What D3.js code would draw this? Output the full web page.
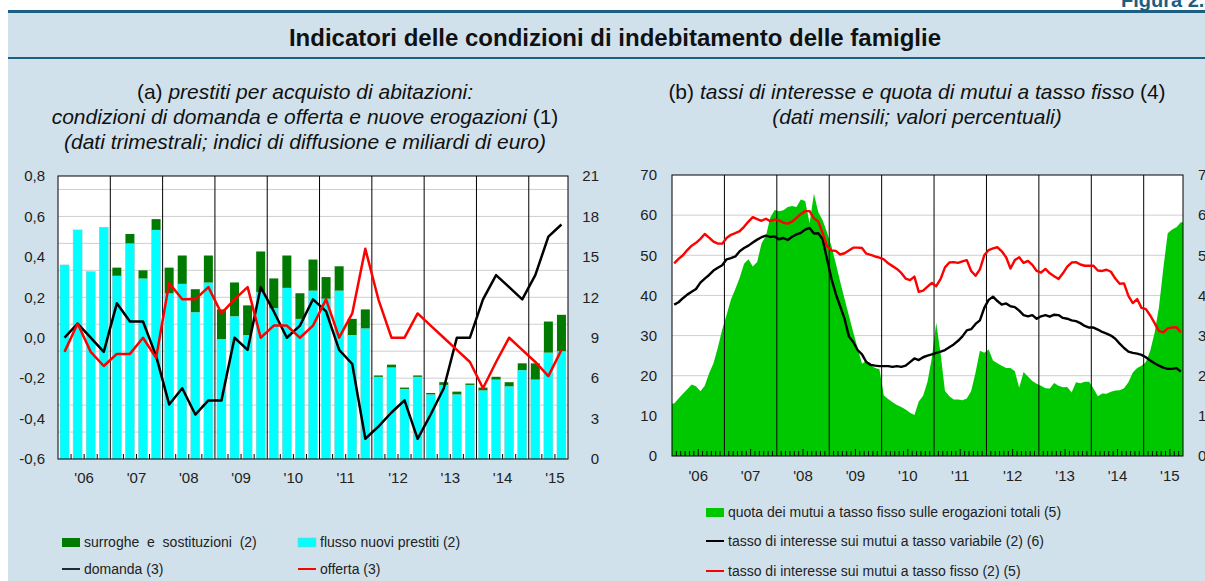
<!DOCTYPE html>
<html>
<head>
<meta charset="utf-8">
<script src="https://cdn.jsdelivr.net/npm/d3@7"></script>
<style>
body { margin: 0; background: #fff; }
svg { display: block; font-family: "Liberation Sans", Arial, Helvetica, sans-serif; }
</style>
</head>
<body>
<script>
// ---- data -------------------------------------------------------------

const years = ["'06", "'07", "'08", "'09", "'10", "'11", "'12", "'13", "'14", "'15"]

// (a) quarterly, 2006 Q1 - 2015 Q3
// flusso nuovi prestiti (miliardi di euro)
const flussoNuovi = [14.4, 17.0, 13.9, 17.2, 13.6, 16.0, 13.4, 17.0,
  12.3, 13.0, 10.9, 13.1, 8.9, 10.6, 9.2, 12.4,
  11.2, 12.7, 10.4, 12.5, 11.9, 12.5, 9.2, 9.7,
  6.1, 6.8, 5.2, 6.1, 4.8, 5.5, 4.8, 5.5,
  5.1, 5.9, 5.4, 6.6, 5.9, 7.9, 8.0]
// surroghe e sostituzioni (miliardi di euro)
const surroghe = [0, 0, 0, 0, 0.6, 0.7, 0.6, 0.8,
  1.9, 2.1, 1.7, 2.0, 2.2, 2.5, 2.2, 3.0,
  2.2, 2.4, 1.9, 2.3, 1.6, 1.8, 1.2, 1.4,
  0.1, 0.2, 0.1, 0.1, 0.1, 0.2, 0.2, 0.1,
  0.2, 0.2, 0.3, 0.5, 1.2, 2.3, 2.7]
// indici di diffusione
const domanda = [0.0, 0.07, 0.0, -0.07, 0.17, 0.08, 0.08, -0.09,
  -0.33, -0.25, -0.38, -0.31, -0.31, 0.0, -0.06, 0.25,
  0.13, 0.0, 0.06, 0.19, 0.13, -0.06, -0.13, -0.5,
  -0.44, -0.37, -0.31, -0.5, -0.38, -0.25, 0.0, 0.0,
  0.19, 0.31, 0.25, 0.19, 0.31, 0.5, 0.56]
const offerta = [-0.07, 0.07, -0.07, -0.14, -0.08, -0.08, 0.0, -0.1,
  0.27, 0.19, 0.19, 0.25, 0.12, 0.19, 0.25, 0.0,
  0.06, 0.06, 0.0, 0.06, 0.19, 0.0, 0.12, 0.44,
  0.19, 0.0, 0.0, 0.12, 0.06, 0.0, -0.06, -0.12,
  -0.25, -0.12, 0.0, -0.06, -0.12, -0.19, -0.06]

// (b) monthly, Jan 2006 - Sep 2015
// quota dei mutui a tasso fisso (percent)
const quotaFisso = [
  13.1, 14.3, 15.5, 16.6, 17.8, 17.4, 16.1, 17.5, 20.6, 23.1, 27.0, 31.5,
  35.2, 39.0, 41.6, 44.4, 47.9, 49.0, 47.2, 48.3, 53.0, 54.8, 59.4, 61.3,
  61.0, 61.2, 62.0, 62.3, 62.0, 63.9, 63.5, 58.0, 65.3, 60.7, 58.7, 55.7,
  52.3, 48.0, 43.5, 39.2, 35.0, 30.8, 26.9, 23.0, 23.7, 22.6, 21.9, 21.6,
  15.1, 14.2, 13.4, 12.7, 12.2, 11.6, 10.8, 10.2, 13.6, 15.0, 18.5, 24.5,
  33.2, 25.5, 16.2, 14.9, 14.1, 14.1, 13.9, 14.3, 16.2, 20.8, 26.2, 25.7,
  26.5, 23.8, 23.1, 22.5, 21.9, 21.9, 21.1, 17.0, 20.9, 19.8, 18.7, 18.0,
  17.5, 16.9, 16.8, 18.2, 17.5, 17.1, 17.2, 15.8, 18.4, 18.1, 18.5, 18.5,
  16.8, 14.9, 15.6, 15.5, 16.0, 16.3, 16.4, 16.9, 18.4, 20.8, 21.9, 22.5,
  23.4, 26.2, 30.7, 37.1, 46.8, 55.5, 56.4, 57.0, 58.2]
// tasso di interesse sui mutui a tasso variabile (percent)
const tassoVariabile = [
  3.77, 3.83, 3.93, 4.02, 4.09, 4.16, 4.32, 4.42, 4.51, 4.62, 4.69, 4.75,
  4.90, 4.93, 4.97, 5.10, 5.18, 5.24, 5.32, 5.39, 5.45, 5.49, 5.46, 5.47,
  5.40, 5.43, 5.38, 5.46, 5.52, 5.56, 5.64, 5.68, 5.54, 5.55, 5.40, 4.90,
  4.42, 4.04, 3.73, 3.42, 2.98, 2.84, 2.64, 2.53, 2.34, 2.27, 2.25, 2.24,
  2.24, 2.24, 2.22, 2.24, 2.22, 2.25, 2.34, 2.43, 2.39, 2.46, 2.50, 2.53,
  2.57, 2.60, 2.64, 2.71, 2.78, 2.87, 2.98, 3.13, 3.16, 3.29, 3.38, 3.69,
  3.89, 3.97, 3.86, 3.77, 3.80, 3.73, 3.71, 3.62, 3.51, 3.48, 3.51, 3.42,
  3.48, 3.51, 3.47, 3.52, 3.51, 3.44, 3.42, 3.38, 3.36, 3.31, 3.24, 3.20,
  3.20, 3.15, 3.09, 3.05, 3.00, 2.92, 2.80, 2.69, 2.60, 2.57, 2.55, 2.52,
  2.46, 2.38, 2.31, 2.25, 2.20, 2.17, 2.17, 2.19, 2.10]
// tasso di interesse sui mutui a tasso fisso (percent)
const tassoFisso = [
  4.80, 4.91, 5.00, 5.13, 5.24, 5.31, 5.41, 5.53, 5.44, 5.34, 5.29, 5.29,
  5.43, 5.51, 5.55, 5.60, 5.71, 5.84, 5.95, 5.90, 5.86, 5.91, 5.85, 5.89,
  5.87, 5.81, 5.79, 5.84, 5.93, 6.03, 6.10, 6.10, 5.92, 5.84, 5.55, 5.23,
  5.12, 5.11, 5.02, 5.05, 5.12, 5.19, 5.19, 5.18, 5.04, 5.01, 4.97, 4.94,
  4.90, 4.80, 4.73, 4.66, 4.56, 4.42, 4.38, 4.47, 4.09, 4.12, 4.22, 4.31,
  4.23, 4.41, 4.70, 4.82, 4.83, 4.81, 4.85, 4.88, 4.61, 4.49, 4.65, 5.00,
  5.13, 5.17, 5.20, 5.10, 4.95, 4.67, 4.88, 4.95, 4.81, 4.86, 4.76, 4.61,
  4.57, 4.66, 4.55, 4.48, 4.41, 4.55, 4.72, 4.82, 4.83, 4.77, 4.74, 4.74,
  4.74, 4.62, 4.61, 4.64, 4.59, 4.42, 4.29, 4.30, 3.99, 3.81, 3.91, 3.69,
  3.66, 3.50, 3.31, 3.11, 3.08, 3.18, 3.20, 3.21, 3.08]

// ---- page -------------------------------------------------------------

const width = 1205
const height = 581
const panelBg = "#d0e1ec"
const rule = "#1b6082"
const fmt = v => d3.format(".1f")(v).replace("−", "-").replace(".", ",")

const svg = d3.select("body")
  .append("svg")
  .attr("width", width)
  .attr("height", height)

svg.append("rect")
  .attr("x", 8).attr("y", 12)
  .attr("width", width - 8).attr("height", height - 12)
  .attr("fill", panelBg)

// figure label, cut by the top edge as in the page it came from
svg.append("text")
  .attr("x", 1121).attr("y", 7)
  .attr("fill", rule)
  .attr("font-weight", "bold")
  .attr("font-size", 20)
  .text("Figura 2.5")

svg.append("line")
  .attr("x1", 8).attr("x2", width)
  .attr("y1", 11.5).attr("y2", 11.5)
  .attr("stroke", rule).attr("stroke-width", 3)
svg.append("line")
  .attr("x1", 8).attr("x2", width)
  .attr("y1", 58).attr("y2", 58)
  .attr("stroke", rule).attr("stroke-width", 2)

svg.append("text")
  .attr("x", 615).attr("y", 46)
  .attr("text-anchor", "middle")
  .attr("font-weight", "bold")
  .attr("font-size", 24)
  .attr("fill", "#111")
  .text("Indicatori delle condizioni di indebitamento delle famiglie")

// subtitle lines: each is a list of [text, italic]
function subtitle (cx, y, parts) {
  let t = svg.append("text")
    .attr("x", cx).attr("y", y)
    .attr("text-anchor", "middle")
    .attr("font-size", 21)
    .attr("fill", "#111")
    .attr("xml:space", "preserve")
  for (let [s, it] of parts) {
    t.append("tspan").attr("font-style", it ? "italic" : "normal").text(s)
  }
}

subtitle(305, 99, [["(a) ", false], ["prestiti per acquisto di abitazioni:", true]])
subtitle(305, 124, [["condizioni di domanda e offerta e nuove erogazioni", true], [" (1)", false]])
subtitle(305, 149, [["(dati trimestrali; indici di diffusione e miliardi di euro)", true]])
subtitle(917, 99, [["(b) ", false], ["tassi di interesse e quota di mutui a tasso fisso", true], [" (4)", false]])
subtitle(917, 124, [["(dati mensili; valori percentuali)", true]])

// ---- (a) quarterly chart ----------------------------------------------

const nQ = flussoNuovi.length
const pa = {left: 58, right: 568, top: 176, bottom: 459}
const xa = d3.scaleLinear().domain([0, nQ]).range([pa.left, pa.right])
const yaL = d3.scaleLinear().domain([-0.6, 0.8]).range([pa.bottom, pa.top])
const yaR = d3.scaleLinear().domain([0, 21]).range([pa.bottom, pa.top])
const ga = svg.append("g")

ga.append("rect")
  .attr("x", pa.left).attr("y", pa.top)
  .attr("width", pa.right - pa.left).attr("height", pa.bottom - pa.top)
  .attr("fill", "#fff")

ga.append("g").selectAll("line")
  .data(yaR.ticks(7).filter(d => d > 0 && d < 21))
  .join("line")
    .attr("x1", pa.left).attr("x2", pa.right)
    .attr("y1", d => yaR(d)).attr("y2", d => yaR(d))
    .attr("stroke", "#cfcfcf").attr("stroke-width", 1)

const bw = 9
ga.append("g").selectAll("rect")
  .data(flussoNuovi)
  .join("rect")
    .attr("x", (d, i) => xa(i + 0.5) - bw / 2)
    .attr("y", d => yaR(d))
    .attr("width", bw)
    .attr("height", d => yaR(0) - yaR(d))
    .attr("fill", "#00ffff")
    .attr("stroke", "#8fc8c8").attr("stroke-width", 0.5)

ga.append("g").selectAll("rect")
  .data(surroghe)
  .join("rect")
    .attr("x", (d, i) => xa(i + 0.5) - bw / 2)
    .attr("y", (d, i) => yaR(flussoNuovi[i] + d))
    .attr("width", bw)
    .attr("height", (d, i) => yaR(flussoNuovi[i]) - yaR(flussoNuovi[i] + d))
    .attr("fill", "#007a00")

// year separators and quarter ticks
ga.append("g").selectAll("line")
  .data(d3.range(4, nQ, 4))
  .join("line")
    .attr("x1", d => xa(d)).attr("x2", d => xa(d))
    .attr("y1", pa.top).attr("y2", pa.bottom)
    .attr("stroke", "#000").attr("stroke-width", 1)
ga.append("g").selectAll("line")
  .data(d3.range(1, nQ).filter(d => d % 4 !== 0))
  .join("line")
    .attr("x1", d => xa(d)).attr("x2", d => xa(d))
    .attr("y1", pa.bottom).attr("y2", pa.bottom - 5)
    .attr("stroke", "#000").attr("stroke-width", 1)

const qLine = d3.line().x((d, i) => xa(i + 0.5)).y(d => yaL(d))
ga.append("path").datum(domanda)
  .attr("d", qLine)
  .attr("fill", "none").attr("stroke", "#000").attr("stroke-width", 2.5)
  .attr("stroke-linejoin", "round")
ga.append("path").datum(offerta)
  .attr("d", qLine)
  .attr("fill", "none").attr("stroke", "#ff0000").attr("stroke-width", 2.5)
  .attr("stroke-linejoin", "round")

ga.append("rect")
  .attr("x", pa.left).attr("y", pa.top)
  .attr("width", pa.right - pa.left).attr("height", pa.bottom - pa.top)
  .attr("fill", "none").attr("stroke", "#000").attr("stroke-width", 1)

ga.append("g").selectAll("text")
  .data(d3.range(-0.6, 0.81, 0.2))
  .join("text")
    .attr("x", pa.left - 13).attr("y", d => yaL(d))
    .attr("dy", "0.35em")
    .attr("text-anchor", "end")
    .attr("font-size", 15).attr("fill", "#222")
    .text(d => fmt(Math.round(d * 10) / 10))
ga.append("g").selectAll("text")
  .data(d3.range(0, 22, 3))
  .join("text")
    .attr("x", pa.right + 31).attr("y", d => yaR(d))
    .attr("dy", "0.35em")
    .attr("text-anchor", "end")
    .attr("font-size", 15).attr("fill", "#222")
    .text(d => d)
ga.append("g").selectAll("text")
  .data(years)
  .join("text")
    .attr("x", (d, i) => xa(i * 4 + 2)).attr("y", pa.bottom + 24)
    .attr("text-anchor", "middle")
    .attr("font-size", 15).attr("fill", "#222")
    .text(d => d)

// ---- (b) monthly chart ------------------------------------------------

const nM = quotaFisso.length
const pb = {left: 672, right: 1183, top: 175, bottom: 456}
const xb = d3.scaleLinear().domain([0, nM]).range([pb.left, pb.right])
const ybL = d3.scaleLinear().domain([0, 70]).range([pb.bottom, pb.top])
const ybR = d3.scaleLinear().domain([0, 7]).range([pb.bottom, pb.top])
const gb = svg.append("g")

gb.append("rect")
  .attr("x", pb.left).attr("y", pb.top)
  .attr("width", pb.right - pb.left).attr("height", pb.bottom - pb.top)
  .attr("fill", "#fff")

gb.append("g").selectAll("line")
  .data(ybL.ticks(7).filter(d => d > 0 && d < 70))
  .join("line")
    .attr("x1", pb.left).attr("x2", pb.right)
    .attr("y1", d => ybL(d)).attr("y2", d => ybL(d))
    .attr("stroke", "#cfcfcf").attr("stroke-width", 1)

// area runs to the plot edges
let areaPts = quotaFisso.map((v, i) => [i + 0.5, v])
areaPts = [[0, quotaFisso[0]], ...areaPts, [nM, quotaFisso[nM - 1]]]
gb.append("path").datum(areaPts)
  .attr("d", d3.area().x(d => xb(d[0])).y0(ybL(0)).y1(d => ybL(d[1])))
  .attr("fill", "#00c800")

gb.append("g").selectAll("line")
  .data(d3.range(12, nM, 12))
  .join("line")
    .attr("x1", d => xb(d)).attr("x2", d => xb(d))
    .attr("y1", pb.top).attr("y2", pb.bottom)
    .attr("stroke", "#000").attr("stroke-width", 1)
gb.append("g").selectAll("line")
  .data(d3.range(1, nM).filter(d => d % 12 !== 0))
  .join("line")
    .attr("x1", d => xb(d)).attr("x2", d => xb(d))
    .attr("y1", pb.bottom).attr("y2", d => pb.bottom - (d % 12 === 6 ? 7 : 5))
    .attr("stroke", "#000").attr("stroke-width", 1)

const mLine = d3.line().x((d, i) => xb(i + 0.5)).y(d => ybR(d))
gb.append("path").datum(tassoVariabile)
  .attr("d", mLine)
  .attr("fill", "none").attr("stroke", "#000").attr("stroke-width", 2.4)
  .attr("stroke-linejoin", "round")
gb.append("path").datum(tassoFisso)
  .attr("d", mLine)
  .attr("fill", "none").attr("stroke", "#ff0000").attr("stroke-width", 2.4)
  .attr("stroke-linejoin", "round")

gb.append("rect")
  .attr("x", pb.left).attr("y", pb.top)
  .attr("width", pb.right - pb.left).attr("height", pb.bottom - pb.top)
  .attr("fill", "none").attr("stroke", "#000").attr("stroke-width", 1)

gb.append("g").selectAll("text")
  .data(d3.range(0, 71, 10))
  .join("text")
    .attr("x", pb.left - 15).attr("y", d => ybL(d))
    .attr("dy", "0.35em")
    .attr("text-anchor", "end")
    .attr("font-size", 15).attr("fill", "#222")
    .text(d => d)
gb.append("g").selectAll("text")
  .data(d3.range(0, 8, 1))
  .join("text")
    .attr("x", pb.right + 15).attr("y", d => ybR(d))
    .attr("dy", "0.35em")
    .attr("font-size", 15).attr("fill", "#222")
    .text(d => d)
gb.append("g").selectAll("text")
  .data(years)
  .join("text")
    .attr("x", (d, i) => xb(i * 12 + 6)).attr("y", pb.bottom + 25)
    .attr("text-anchor", "middle")
    .attr("font-size", 15).attr("fill", "#222")
    .text(d => d)

// ---- legends ----------------------------------------------------------

function legendBox (x, y, color, label, stroke) {
  svg.append("rect")
    .attr("x", x).attr("y", y - 9)
    .attr("width", 18).attr("height", 9)
    .attr("fill", color)
    .attr("stroke", stroke || "none").attr("stroke-width", 0.6)
  svg.append("text")
    .attr("x", x + 22).attr("y", y)
    .attr("font-size", 14).attr("fill", "#222")
    .attr("xml:space", "preserve")
    .text(label)
}
function legendLine (x, y, color, label) {
  svg.append("line")
    .attr("x1", x).attr("x2", x + 18)
    .attr("y1", y - 5).attr("y2", y - 5)
    .attr("stroke", color).attr("stroke-width", 2)
  svg.append("text")
    .attr("x", x + 22).attr("y", y)
    .attr("font-size", 14).attr("fill", "#222")
    .text(label)
}

legendBox(62, 547, "#007a00", "surroghe  e  sostituzioni  (2)")
legendBox(298, 547, "#00ffff", "flusso nuovi prestiti (2)", "#8fc8c8")
legendLine(62, 574, "#1c2b3a", "domanda (3)")
legendLine(298, 574, "#ff0000", "offerta (3)")

legendBox(706, 517, "#00c800", "quota dei mutui a tasso fisso sulle erogazioni totali (5)")
legendLine(706, 546, "#000", "tasso di interesse sui mutui a tasso variabile (2) (6)")
legendLine(706, 576, "#ff0000", "tasso di interesse sui mutui a tasso fisso (2) (5)")
</script>
</body>
</html>
